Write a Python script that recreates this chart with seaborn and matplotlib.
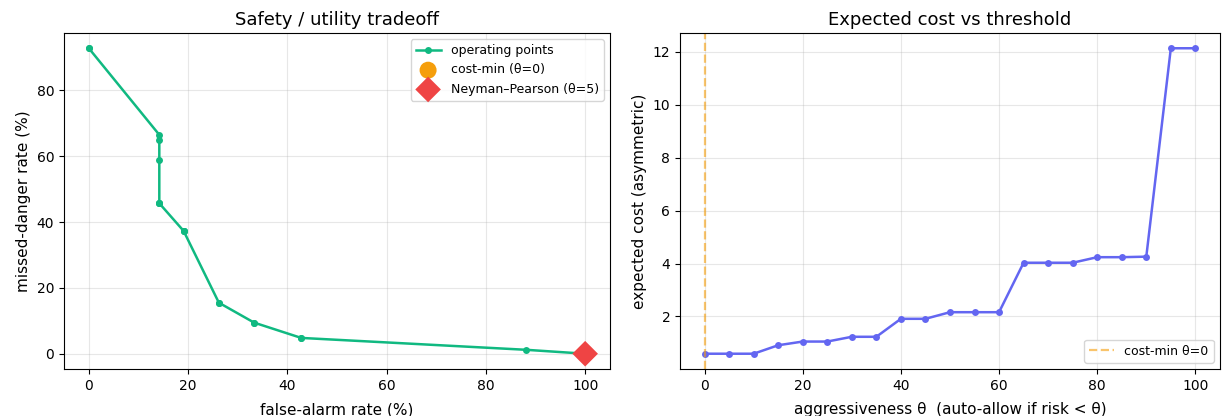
import matplotlib
matplotlib.use("Agg")
import matplotlib.pyplot as plt
import seaborn as sns
import pandas as pd

# thresholds theta
theta = [0, 5, 10, 15, 20, 25, 30, 35, 40, 45, 50, 55, 60, 65, 70, 75, 80, 85, 90, 95, 100]
# false-alarm rate (%) per theta
false_alarm = [100, 100, 100, 88.0, 42.8, 42.8, 33.3, 33.3, 26.2, 26.2, 19.1, 19.1, 19.1,
               14.2, 14.2, 14.2, 14.2, 14.2, 14.2, 0.0, 0.0]
# missed-danger rate (%) per theta
missed = [0.0, 0.0, 0.0, 1.2, 4.8, 4.8, 9.45, 9.45, 15.5, 15.5, 37.3, 37.3, 37.3,
          45.7, 45.7, 45.7, 59.0, 65.0, 66.5, 92.8, 92.8]
# expected cost per theta
exp_cost = [0.59, 0.59, 0.59, 0.91, 1.05, 1.05, 1.23, 1.23, 1.91, 1.91, 2.16, 2.16, 2.16,
            4.03, 4.03, 4.03, 4.24, 4.24, 4.26, 12.14, 12.14]

costmin_theta = 0
np_theta = 5

df = pd.DataFrame({"theta": theta, "fa": false_alarm, "md": missed, "cost": exp_cost})

GREEN = "#10b981"
ORANGE = "#f59e0b"
RED = "#ef4444"
BLUE = "#6366f1"

plt.rcParams["font.family"] = ["DejaVu Sans"]
fig = plt.figure(figsize=(12.31, 4.16), dpi=100)
ax1 = fig.add_axes([0.052, 0.113, 0.4435, 0.8077])
ax2 = fig.add_axes([0.5524, 0.113, 0.4386, 0.8077])

# Left panel
sns.lineplot(data=df, x="fa", y="md", ax=ax1, sort=False, estimator=None, color=GREEN,
             marker="o", markersize=5, markeredgewidth=0, linewidth=1.8,
             label="operating points")
cm = df[df.theta == costmin_theta]
npp = df[df.theta == np_theta]
sns.scatterplot(x=cm.fa, y=cm.md, ax=ax1, color=ORANGE, s=150, marker="o",
                edgecolor="none", label=f"cost-min (θ={costmin_theta})", zorder=4)
sns.scatterplot(x=npp.fa, y=npp.md, ax=ax1, color=RED, s=170, marker="D",
                edgecolor="none", label=f"Neyman–Pearson (θ={np_theta})", zorder=5)
ax1.set_title("Safety / utility tradeoff", fontsize=13)
ax1.set_xlabel("false-alarm rate (%)", fontsize=11, labelpad=7)
ax1.set_ylabel("missed-danger rate (%)", fontsize=11)
ax1.grid(True, alpha=0.3)
ax1.tick_params(labelsize=10)
ax1.legend(loc="upper right", fontsize=9)

# Right panel
sns.lineplot(data=df, x="theta", y="cost", ax=ax2, color=BLUE, marker="o",
             markersize=5, markeredgewidth=0, linewidth=1.8)
ax2.axvline(costmin_theta, color=ORANGE, linestyle="--", alpha=0.6, linewidth=1.6,
            label=f"cost-min θ={costmin_theta}")
ax2.set_title("Expected cost vs threshold", fontsize=13)
ax2.set_xlabel("aggressiveness θ  (auto-allow if risk < θ)", fontsize=11, labelpad=7)
ax2.set_ylabel("expected cost (asymmetric)", fontsize=11)
ax2.grid(True, alpha=0.3)
ax2.tick_params(labelsize=10)
ax2.legend(loc="lower right", fontsize=9)

fig.savefig("out.png", dpi=100)
